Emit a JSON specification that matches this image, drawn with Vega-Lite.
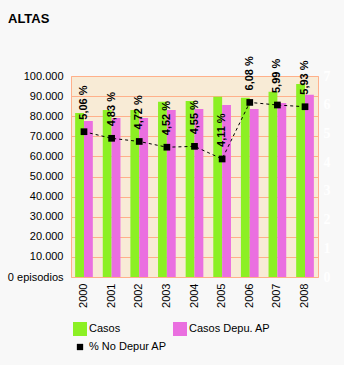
{
  "$schema": "https://vega.github.io/schema/vega-lite/v6.json",
  "width": 247,
  "height": 201,
  "autosize": {"type": "none"},
  "padding": {"left": 71, "top": 76, "right": 26, "bottom": 88},
  "background": "#f8f8f8",
  "title": {
    "text": "ALTAS",
    "anchor": "start",
    "frame": "group",
    "dx": -63,
    "offset": 30,
    "font": "Liberation Sans",
    "fontSize": 13,
    "fontWeight": "bold",
    "color": "#000000"
  },
  "config": {
    "view": {"fill": "#f8ebd6", "stroke": "#ffb08a", "strokeWidth": 1},
    "font": "Liberation Sans"
  },
  "datasets": {
    "barras": [
      {"anio": "2000", "serie": "Casos", "valor": 81600},
      {"anio": "2000", "serie": "Casos Depu. AP", "valor": 77600},
      {"anio": "2001", "serie": "Casos", "valor": 83100},
      {"anio": "2001", "serie": "Casos Depu. AP", "valor": 79100},
      {"anio": "2002", "serie": "Casos", "valor": 83100},
      {"anio": "2002", "serie": "Casos Depu. AP", "valor": 79100},
      {"anio": "2003", "serie": "Casos", "valor": 87200},
      {"anio": "2003", "serie": "Casos Depu. AP", "valor": 83100},
      {"anio": "2004", "serie": "Casos", "valor": 87600},
      {"anio": "2004", "serie": "Casos Depu. AP", "valor": 83600},
      {"anio": "2005", "serie": "Casos", "valor": 89700},
      {"anio": "2005", "serie": "Casos Depu. AP", "valor": 85600},
      {"anio": "2006", "serie": "Casos", "valor": 89200},
      {"anio": "2006", "serie": "Casos Depu. AP", "valor": 83600},
      {"anio": "2007", "serie": "Casos", "valor": 92200},
      {"anio": "2007", "serie": "Casos Depu. AP", "valor": 86600},
      {"anio": "2008", "serie": "Casos", "valor": 96000},
      {"anio": "2008", "serie": "Casos Depu. AP", "valor": 90700}
    ],
    "linea": [
      {"anio": "2000", "serie": "% No Depur AP", "pct": 5.06, "etiqueta": "5,06 %"},
      {"anio": "2001", "serie": "% No Depur AP", "pct": 4.83, "etiqueta": "4,83 %"},
      {"anio": "2002", "serie": "% No Depur AP", "pct": 4.72, "etiqueta": "4,72 %"},
      {"anio": "2003", "serie": "% No Depur AP", "pct": 4.52, "etiqueta": "4,52 %"},
      {"anio": "2004", "serie": "% No Depur AP", "pct": 4.55, "etiqueta": "4,55 %"},
      {"anio": "2005", "serie": "% No Depur AP", "pct": 4.11, "etiqueta": "4,11 %"},
      {"anio": "2006", "serie": "% No Depur AP", "pct": 6.08, "etiqueta": "6,08 %"},
      {"anio": "2007", "serie": "% No Depur AP", "pct": 5.99, "etiqueta": "5,99 %"},
      {"anio": "2008", "serie": "% No Depur AP", "pct": 5.93, "etiqueta": "5,93 %"}
    ]
  },
  "encoding": {
    "x": {
      "field": "anio",
      "type": "nominal",
      "scale": {"paddingInner": 0.36, "paddingOuter": 0.15},
      "axis": {
        "title": null,
        "labelAngle": -90,
        "labelAlign": "right",
        "labelBaseline": "middle",
        "labelPadding": 6,
        "ticks": false,
        "domain": false,
        "labelFontSize": 11,
        "labelColor": "#000000"
      }
    }
  },
  "layer": [
    {
      "data": {"name": "barras"},
      "mark": {"type": "bar"},
      "encoding": {
        "xOffset": {"field": "serie", "type": "nominal", "sort": ["Casos", "Casos Depu. AP"], "scale": {"paddingInner": 0, "paddingOuter": 0}},
        "y": {
          "field": "valor",
          "type": "quantitative",
          "scale": {"domain": [0, 100000], "nice": false},
          "axis": {
            "title": null,
            "values": [0, 10000, 20000, 30000, 40000, 50000, 60000, 70000, 80000, 90000, 100000],
            "labelExpr": "datum.value == 0 ? '0 episodios' : replace(format(datum.value, ','), ',', '.')",
            "gridColor": "#ffb08a",
            "gridOpacity": 1,
            "gridWidth": 1,
            "domain": false,
            "ticks": false,
            "labelPadding": 8,
            "labelFontSize": 11,
            "labelColor": "#000000"
          }
        },
        "color": {
          "field": "serie",
          "type": "nominal",
          "sort": ["Casos", "Casos Depu. AP", "% No Depur AP"],
          "scale": {
            "domain": ["Casos", "Casos Depu. AP", "% No Depur AP"],
            "range": ["#8cf024", "#ea6fe0", "#000000"]
          },
          "legend": {
            "title": null,
            "orient": "none",
            "direction": "horizontal",
            "legendX": 2,
            "legendY": 246,
            "columns": 2,
            "columnPadding": 6,
            "rowPadding": 4,
            "values": ["Casos", "Casos Depu. AP", "% No Depur AP"],
            "symbolType": "square",
            "symbolSize": 196,
            "symbolStrokeWidth": 0,
            "labelFontSize": 11,
            "labelColor": "#000000",
            "labelOffset": 2,
            "encode": {
              "symbols": {
                "update": {
                  "size": {"signal": "datum.value === '% No Depur AP' ? 40 : 196"}
                }
              }
            }
          }
        }
      }
    },
    {
      "data": {"name": "linea"},
      "encoding": {
        "y": {
          "field": "pct",
          "type": "quantitative",
          "scale": {"domain": [0, 7], "nice": false},
          "axis": {
            "orient": "right",
            "title": null,
            "values": [0, 1, 2, 3, 4, 5, 6, 7],
            "grid": false,
            "domain": false,
            "ticks": false,
            "labelPadding": 5,
            "labelColor": "#ffffff",
            "labelFont": "Liberation Serif",
            "labelFontSize": 14,
            "labelFontWeight": "bold"
          }
        }
      },
      "layer": [
        {
          "mark": {"type": "line", "strokeDash": [3, 3], "strokeWidth": 1},
          "encoding": {
            "color": {"field": "serie", "type": "nominal"}
          }
        },
        {
          "mark": {"type": "point", "shape": "square", "filled": true, "size": 45, "color": "#000000", "opacity": 1},
          "encoding": {}
        },
        {
          "mark": {"type": "text", "angle": 270, "align": "left", "baseline": "middle", "dx": 12, "fontSize": 11, "fontWeight": "bold", "color": "#000000"},
          "encoding": {
            "text": {"field": "etiqueta", "type": "nominal"}
          }
        }
      ]
    }
  ],
  "resolve": {"scale": {"y": "independent"}}
}
